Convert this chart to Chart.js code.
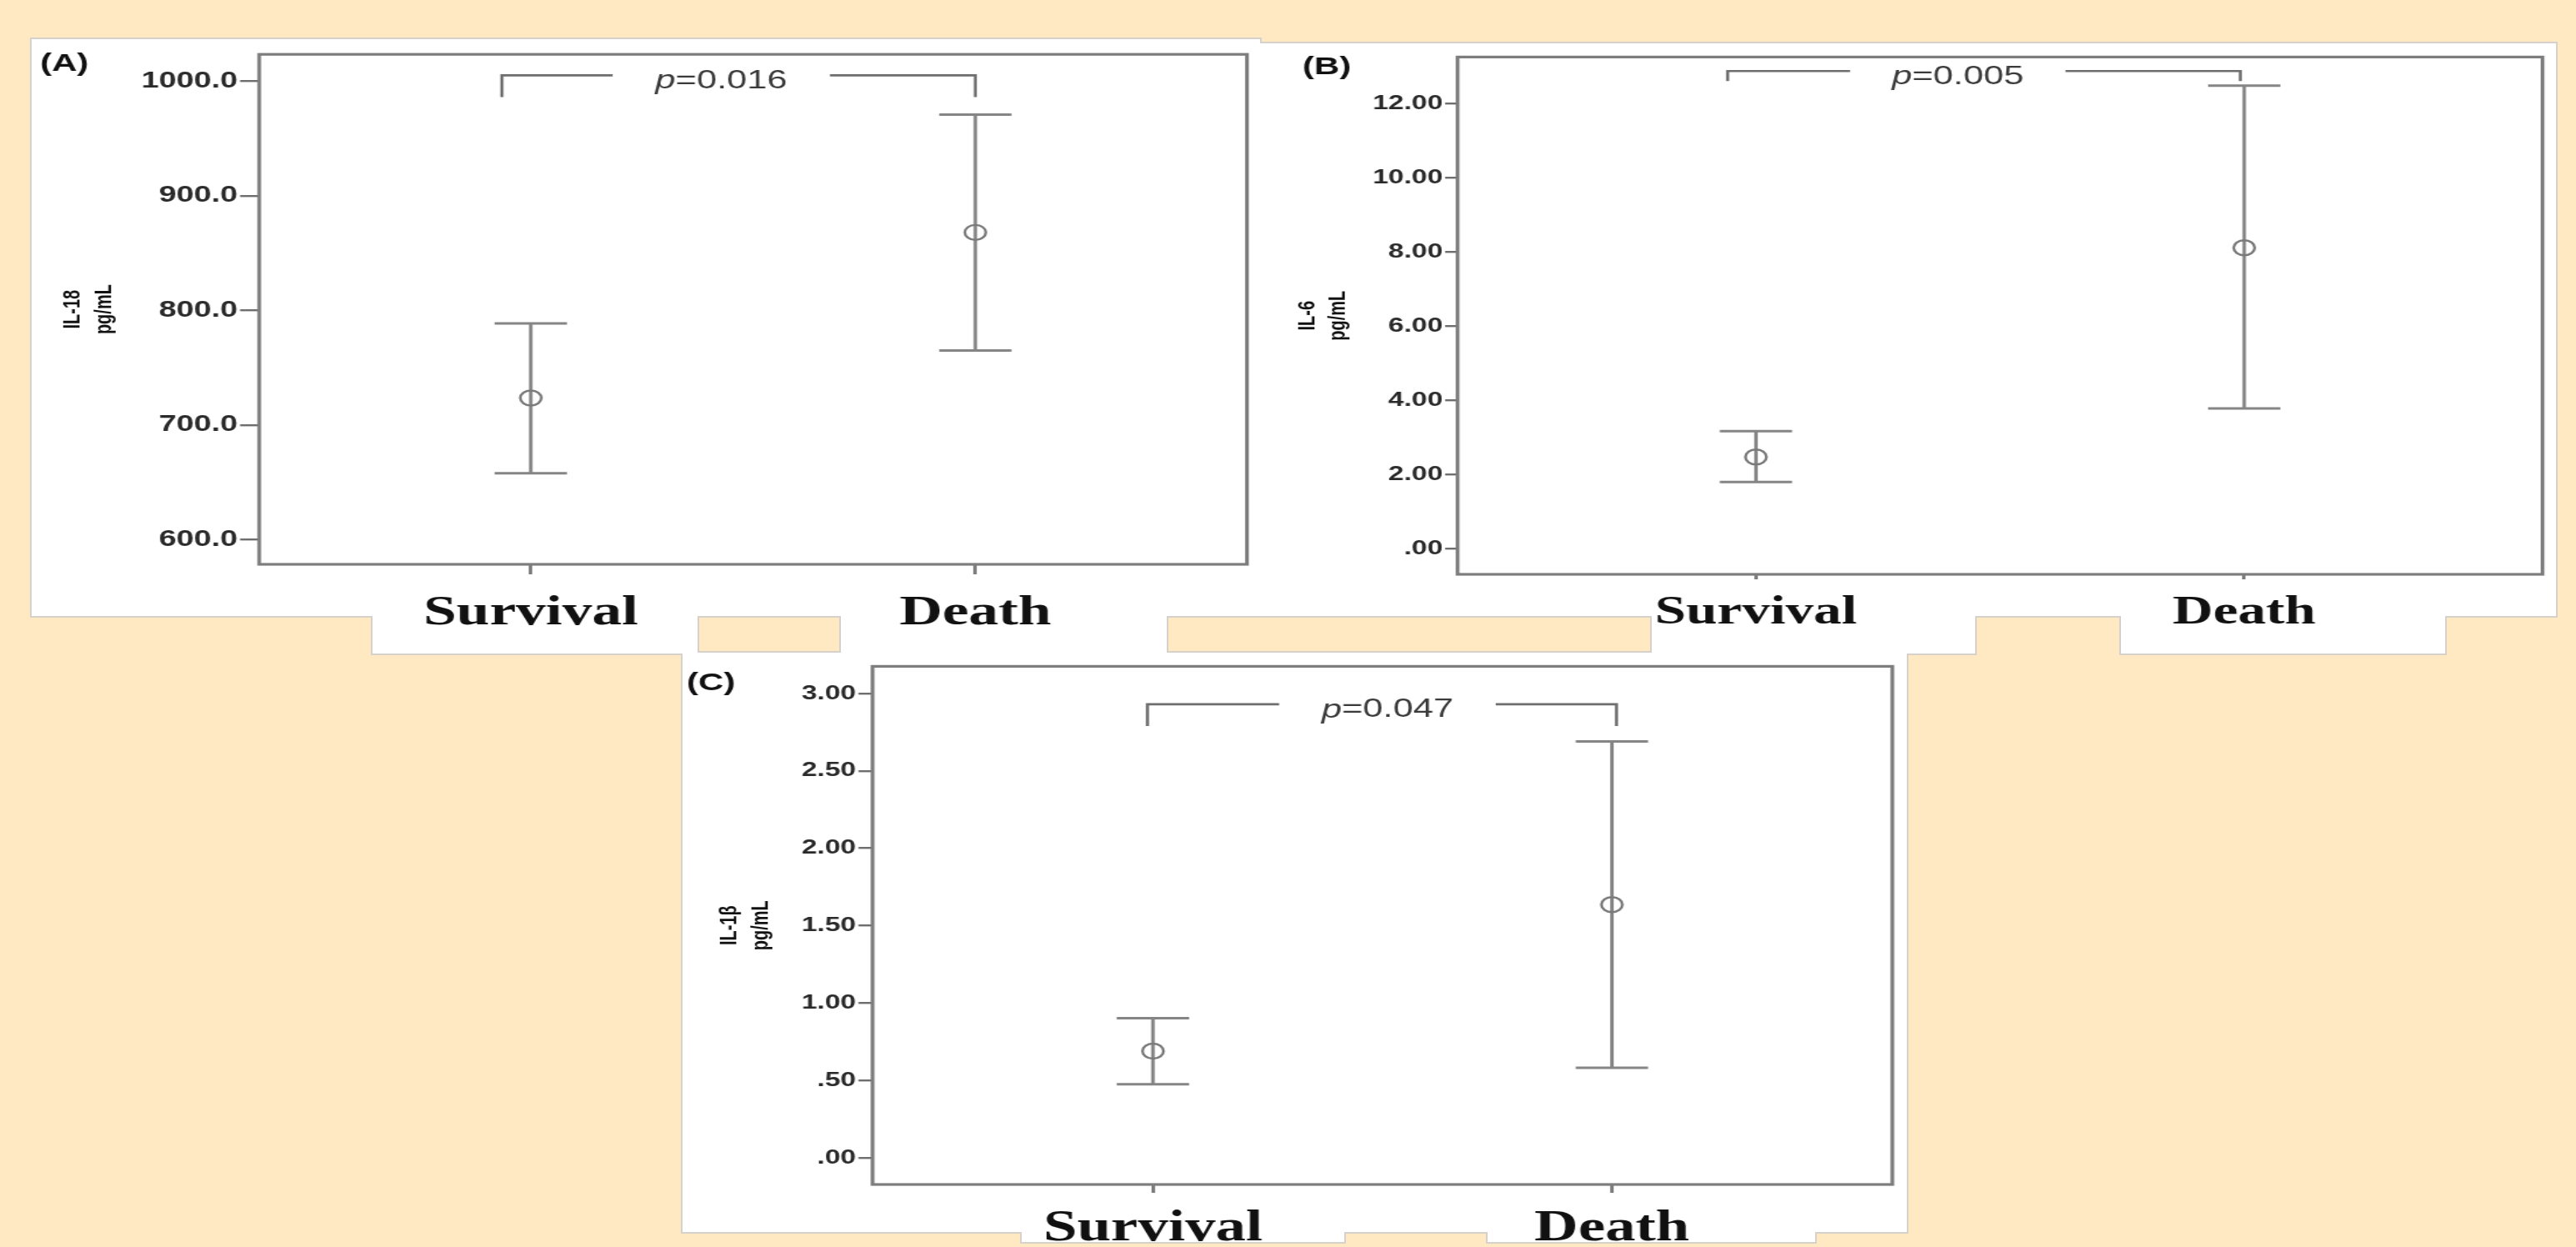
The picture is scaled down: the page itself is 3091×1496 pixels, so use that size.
<!DOCTYPE html>
<html>
<head>
<meta charset="utf-8">
<script src="https://cdn.jsdelivr.net/npm/chart.js@4.4.1/dist/chart.umd.min.js"></script>
<style>
  html, body { margin: 0; padding: 0; }
  body { width: 3091px; height: 1496px; background: #fee9c3; position: relative; overflow: hidden; }
  .edge { position: absolute; background: #d6d2cb; }
  .card { position: absolute; background: #fff; }
  .wrap { position: absolute; transform-origin: 0 0; }
  canvas { display: block; }
</style>
</head>
<body>
<script>
const groups = ['Survival', 'Death'];

// (A) IL-18
const il18Mean = [723.6, 868.0];
const il18Lower = [658.0, 765.0];
const il18Upper = [788.6, 970.7];
const il18Ticks = [600, 700, 800, 900, 1000];
const il18TickLabels = ['600.0', '700.0', '800.0', '900.0', '1000.0'];
const il18Range = [578.6, 1023.3];

// (B) IL-6
const il6Mean = [2.47, 8.11];
const il6Lower = [1.80, 3.78];
const il6Upper = [3.17, 12.48];
const il6Ticks = [0, 2, 4, 6, 8, 10, 12];
const il6TickLabels = ['.00', '2.00', '4.00', '6.00', '8.00', '10.00', '12.00'];
const il6Range = [-0.69, 13.25];

// (C) IL-1β
const il1bMean = [0.69, 1.636];
const il1bLower = [0.476, 0.582];
const il1bUpper = [0.903, 2.69];
const il1bTicks = [0, 0.5, 1, 1.5, 2, 2.5, 3];
const il1bTickLabels = ['.00', '.50', '1.00', '1.50', '2.00', '2.50', '3.00'];
const il1bRange = [-0.171, 3.175];

const pValues = ['0.016', '0.005', '0.047'];

// significance brackets: x = [left end, gap start, gap end, right end], y = [bar, leg end]
const bracketXA = [-0.065, 0.184, 0.673, 1.0];
const bracketYA = [1005, 986];
const bracketXB = [-0.058, 0.193, 0.634, 0.992];
const bracketYB = [12.87, 12.6];
const bracketXC = [-0.012, 0.275, 0.747, 1.01];
const bracketYC = [2.93, 2.79];

const xRange = [-0.611, 1.611];

// the original figure is stretched sideways
const S = 1.4;
const CAP = 31;

const panels = [
    {
        letter: '(A)', box: [38, 47, 1512, 790], plot: [311, 53, 1496, 677],
        tabs: [[447, 837], [1009, 1400]], cardBottom: 739,
        letterAt: [48, 62], titleX: [87, 125], title: ['IL-18', 'pg/mL'],
        mean: il18Mean, lower: il18Lower, upper: il18Upper,
        ticks: il18Ticks, tickLabels: il18TickLabels, range: il18Range,
        p: pValues[0], bx: bracketXA, by: bracketYA,
        tickFont: 27, catFont: 51, yTickLen: 23, xTickLen: 12, catPad: 16
    },
    {
        letter: '(B)', box: [1510, 52, 3067, 790], plot: [1749, 60, 3052, 689],
        tabs: [[1982, 2370], [2545, 2934]], cardBottom: 739,
        letterAt: [1563, 66], titleX: [1569, 1606], title: ['IL-6', 'pg/mL'],
        mean: il6Mean, lower: il6Lower, upper: il6Upper,
        ticks: il6Ticks, tickLabels: il6TickLabels, range: il6Range,
        p: pValues[1], bx: bracketXB, by: bracketYB,
        tickFont: 24, catFont: 48, yTickLen: 15, xTickLen: 6, catPad: 12
    },
    {
        letter: '(C)', box: [819, 783, 2288, 1496], plot: [1047, 795, 2271, 1421],
        tabs: [[1226, 1613], [1785, 2178]], cardBottom: 1478,
        letterAt: [824, 805], titleX: [876, 913], title: ['IL-1β', 'pg/mL'],
        mean: il1bMean, lower: il1bLower, upper: il1bUpper,
        ticks: il1bTicks, tickLabels: il1bTickLabels, range: il1bRange,
        p: pValues[2], bx: bracketXC, by: bracketYC,
        tickFont: 24, catFont: 52, yTickLen: 17, xTickLen: 10, catPad: 12
    }
];

function addRect(cls, l, t, r, b, grow) {
    const d = document.createElement('div');
    d.className = cls;
    d.style.left = (l - grow) + 'px';
    d.style.top = (t - grow) + 'px';
    d.style.width = (r - l + 2 * grow) + 'px';
    d.style.height = (b - t + 2 * grow) + 'px';
    document.body.appendChild(d);
}

// white cards with tabs under the group names
['edge', 'card'].forEach((cls) => {
    const grow = cls === 'edge' ? 2 : 0;
    panels.forEach((p) => {
        addRect(cls, p.box[0], p.box[1], p.box[2], p.cardBottom, grow);
        p.tabs.forEach((t) => addRect(cls, t[0], p.cardBottom - 5, t[1], p.box[3] - 6, grow));
    });
});

function decor(p) {
    const ox = p.box[0], oy = p.box[1];
    return {
        id: 'decor',
        beforeDatasetsDraw(chart) {
            const { ctx, scales: { x, y } } = chart;
            ctx.save();
            ctx.strokeStyle = '#858585';
            ctx.lineWidth = 3;
            p.mean.forEach((m, i) => {
                const px = x.getPixelForValue(i);
                const top = y.getPixelForValue(p.upper[i]);
                const bot = y.getPixelForValue(p.lower[i]);
                ctx.beginPath();
                ctx.moveTo(px, top); ctx.lineTo(px, bot);
                ctx.moveTo(px - CAP, top); ctx.lineTo(px + CAP, top);
                ctx.moveTo(px - CAP, bot); ctx.lineTo(px + CAP, bot);
                ctx.stroke();
            });
            ctx.restore();
        },
        afterDraw(chart) {
            const { ctx, chartArea: a, scales: { x, y } } = chart;
            ctx.save();
            // plot frame
            ctx.strokeStyle = '#7d7d7d';
            ctx.lineWidth = 3.2;
            ctx.strokeRect(a.left, a.top, a.right - a.left, a.bottom - a.top);

            // bracket
            const xs = p.bx.map((v) => x.getPixelForValue(v));
            const yBar = y.getPixelForValue(p.by[0]);
            const yLeg = y.getPixelForValue(p.by[1]);
            ctx.strokeStyle = '#6e6e6e';
            ctx.lineWidth = 2.6;
            ctx.beginPath();
            ctx.moveTo(xs[0], yLeg); ctx.lineTo(xs[0], yBar); ctx.lineTo(xs[1], yBar);
            ctx.moveTo(xs[2], yBar); ctx.lineTo(xs[3], yBar); ctx.lineTo(xs[3], yLeg);
            ctx.stroke();

            // p value
            const cx = (xs[1] + xs[2]) / 2;
            ctx.fillStyle = '#3a3a3a';
            ctx.textBaseline = 'middle';
            ctx.textAlign = 'left';
            ctx.font = 'italic 31px "Liberation Sans"';
            const w1 = ctx.measureText('p').width;
            ctx.font = '31px "Liberation Sans"';
            const rest = '=' + p.p;
            const w2 = ctx.measureText(rest).width;
            const sx = cx - (w1 + w2) / 2;
            ctx.font = 'italic 31px "Liberation Sans"';
            ctx.fillText('p', sx, yBar + 7);
            ctx.font = '31px "Liberation Sans"';
            ctx.fillText(rest, sx + w1, yBar + 7);

            // panel letter
            ctx.fillStyle = '#111';
            ctx.font = 'bold 30px "Liberation Sans"';
            ctx.textBaseline = 'top';
            ctx.fillText(p.letter, (p.letterAt[0] - ox) / S, p.letterAt[1] - oy);

            // y axis title, two rotated lines
            const midY = (a.top + a.bottom) / 2;
            ctx.font = 'bold 20px "Liberation Sans"';
            ctx.textAlign = 'center';
            ctx.textBaseline = 'middle';
            p.title.forEach((line, i) => {
                ctx.save();
                ctx.translate((p.titleX[i] - ox) / S, midY);
                ctx.rotate(-Math.PI / 2);
                ctx.fillText(line, 0, 0);
                ctx.restore();
            });
            ctx.restore();
        }
    };
}

panels.forEach((p) => {
    const W = p.box[2] - p.box[0];
    const H = p.box[3] - p.box[1];
    const wrap = document.createElement('div');
    wrap.className = 'wrap';
    wrap.style.left = p.box[0] + 'px';
    wrap.style.top = p.box[1] + 'px';
    wrap.style.transform = 'scaleX(' + S + ')';
    const canvas = document.createElement('canvas');
    canvas.width = Math.round(W / S);
    canvas.height = H;
    wrap.appendChild(canvas);
    document.body.appendChild(wrap);

    new Chart(canvas.getContext('2d'), {
        type: 'scatter',
        data: {
            datasets: [{
                data: p.mean.map((m, i) => ({ x: i, y: m })),
                pointStyle: 'circle',
                pointRadius: 9,
                pointHoverRadius: 9,
                borderWidth: 2.4,
                borderColor: '#7a7a7a',
                backgroundColor: 'rgba(255,255,255,0)'
            }]
        },
        options: {
            responsive: false,
            animation: false,
            events: [],
            layout: {
                padding: {
                    top: p.plot[1] - p.box[1],
                    right: (p.box[2] - p.plot[2]) / S,
                    left: 0,
                    bottom: 0
                }
            },
            plugins: { legend: { display: false }, tooltip: { enabled: false } },
            scales: {
                x: {
                    type: 'linear',
                    min: xRange[0],
                    max: xRange[1],
                    afterFit: (s) => { s.height = p.box[3] - p.plot[3]; },
                    afterBuildTicks: (s) => { s.ticks = groups.map((g, i) => ({ value: i })); },
                    ticks: {
                        callback: (v) => groups[v],
                        font: { family: '"Liberation Serif"', weight: 'bold', size: p.catFont },
                        color: '#111',
                        padding: p.catPad,
                        maxRotation: 0
                    },
                    grid: { drawOnChartArea: false, drawTicks: true, tickLength: p.xTickLen, color: '#7d7d7d', lineWidth: 3 },
                    border: { display: false }
                },
                y: {
                    min: p.range[0],
                    max: p.range[1],
                    afterFit: (s) => { s.width = (p.plot[0] - p.box[0]) / S; },
                    afterBuildTicks: (s) => { s.ticks = p.ticks.map((v) => ({ value: v })); },
                    ticks: {
                        callback: (v) => p.tickLabels[p.ticks.indexOf(v)],
                        font: { family: '"Liberation Sans"', weight: 'bold', size: p.tickFont },
                        color: '#2a2a2a',
                        padding: 2
                    },
                    grid: { drawOnChartArea: false, drawTicks: true, tickLength: p.yTickLen / S, color: '#6e6e6e', lineWidth: 2.4 },
                    border: { display: false }
                }
            }
        },
        plugins: [decor(p)]
    });
});
</script>
</body>
</html>
